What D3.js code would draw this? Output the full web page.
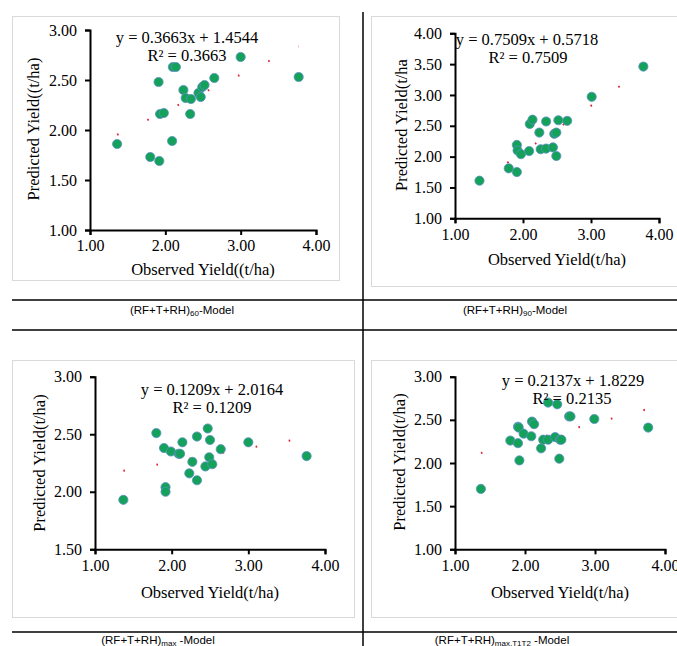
<!DOCTYPE html>
<html><head><meta charset="utf-8">
<script src="https://cdn.jsdelivr.net/npm/d3@7"></script>
<style>body{margin:0;background:#fff}svg{display:block}</style>
</head><body>
<svg id="c" width="677" height="646"></svg>
<script>
// ---- data ----
const p1Obs  = [1.36,1.80,1.92,1.91,1.93,1.98,2.09,2.10,2.14,2.24,2.27,2.34,2.33,2.44,2.47,2.49,2.52,2.65,3.00,3.77];
const p1Pred = [1.86,1.73,1.69,2.48,2.16,2.17,1.89,2.63,2.63,2.40,2.32,2.31,2.16,2.37,2.33,2.43,2.45,2.52,2.73,2.53];
const p2Obs  = [1.36,1.79,1.91,1.91,1.92,1.97,2.09,2.10,2.14,2.24,2.26,2.34,2.34,2.44,2.46,2.49,2.49,2.52,2.65,3.01,3.77];
const p2Pred = [1.61,1.81,1.75,2.19,2.10,2.04,2.09,2.53,2.60,2.39,2.12,2.13,2.57,2.15,2.37,2.39,2.01,2.59,2.58,2.97,3.46];
const p3Obs  = [1.37,1.80,1.90,1.99,1.92,1.92,2.09,2.11,2.14,2.23,2.27,2.33,2.33,2.47,2.50,2.49,2.44,2.53,2.64,3.00,3.76];
const p3Pred = [1.93,2.51,2.38,2.35,2.04,2.00,2.33,2.33,2.43,2.16,2.26,2.48,2.10,2.55,2.45,2.30,2.22,2.24,2.37,2.43,2.31];
const p4Obs  = [1.37,1.79,1.90,1.91,1.90,1.92,1.98,2.10,2.13,2.09,2.23,2.26,2.33,2.33,2.46,2.43,2.50,2.52,2.49,2.63,2.65,2.99,3.76];
const p4Pred = [1.70,2.26,2.42,2.41,2.23,2.03,2.34,2.48,2.45,2.31,2.17,2.27,2.70,2.27,2.68,2.30,2.27,2.27,2.05,2.54,2.54,2.51,2.41];
const slopes     = [0.3663, 0.7509, 0.1209, 0.2137];
const intercepts = [1.4544, 0.5718, 2.0164, 1.8229];
const eqLabels = ["y = 0.3663x + 1.4544","y = 0.7509x + 0.5718","y = 0.1209x + 2.0164","y = 0.2137x + 1.8229"];
const r2Labels = ["R² = 0.3663","R² = 0.7509","R² = 0.1209","R² = 0.2135"];
const xTicks = [1,2,3,4];
const yTicks1 = [1,1.5,2,2.5,3];
const yTicks2 = [1,1.5,2,2.5,3,3.5,4];
const yTicks3 = [1.5,2,2.5,3];
const yTicks4 = [1,1.5,2,2.5,3];
const xTitles = ["Observed Yield((t/ha)","Observed Yield(t/ha)","Observed Yield(t/ha)","Observed Yield(t/ha)"];
const yTitles = ["Predicted Yield((t/ha)","Predicted Yield(t/ha","Predicted Yield(t/ha)","Predicted Yield(t/ha)"];
const capMain = ["(RF+T+RH)","(RF+T+RH)","(RF+T+RH)","(RF+T+RH)"];
const capSub  = ["60","90","max","max.T1T2"];
const capTail = ["-Model","-Model"," -Model"," -Model"];

// ---- layout ----
const svg = d3.select("#c");
svg.append("rect").attr("width",677).attr("height",646).attr("fill","#fff");
const serif = "'Liberation Serif','Times New Roman',serif";
const sans = "'Liberation Sans',Arial,sans-serif";

const panels = [
  {obs:p1Obs,pred:p1Pred,yTicks:yTicks1,yDom:[1,3],box:[12,16,339,280],x0:90,x1:316,yb:230,yt:30,
   eq:[187,43],r2:[187,61],xt:[203,275],yt2:[33,129],cap:[182,314]},
  {obs:p2Obs,pred:p2Pred,yTicks:yTicks2,yDom:[1,4],box:[371,16,680,286],x0:455,x1:659,yb:218.3,yt:33.3,
   eq:[527,45],r2:[528,63],xt:[557,265],yt2:[401,125],cap:[515,314]},
  {obs:p3Obs,pred:p3Pred,yTicks:yTicks3,yDom:[1.5,3],box:[12,360,354,617],x0:95,x1:325,yb:549.3,yt:376.7,
   eq:[212,395],r2:[212,413],xt:[210,598],yt2:[39,463],cap:[158,644]},
  {obs:p4Obs,pred:p4Pred,yTicks:yTicks4,yDom:[1,3],box:[371,360,680,617],x0:455,x1:665,yb:549.3,yt:376.7,
   eq:[573,386],r2:[572,404],xt:[560,598],yt2:[399,462],cap:[502,644]}
];

// divider lines
const lines = [[12,300,677,300],[12,330,677,330],[12,632,677,632],[363,12,363,646]];
svg.selectAll("line.div").data(lines).join("line").attr("class","div")
  .attr("x1",d=>d[0]).attr("y1",d=>d[1]).attr("x2",d=>d[2]).attr("y2",d=>d[3])
  .attr("stroke","#000").attr("stroke-width",1.5);

panels.forEach((p,i)=>{
  const g = svg.append("g");
  const b = p.box;
  g.append("rect").attr("x",b[0]+0.5).attr("y",b[1]+0.5).attr("width",b[2]-b[0]).attr("height",b[3]-b[1])
    .attr("fill","#fff").attr("stroke","#d9d9d9").attr("stroke-width",1);
  const x = d3.scaleLinear().domain([1,4]).range([p.x0,p.x1]);
  const y = d3.scaleLinear().domain(p.yDom).range([p.yb,p.yt]);

  const xa = g.append("g").attr("transform",`translate(0,${p.yb})`)
    .call(d3.axisBottom(x).tickValues(xTicks).tickFormat(d3.format(".2f")).tickSizeOuter(0).tickSize(5).tickPadding(5));
  const ya = g.append("g").attr("transform",`translate(${p.x0},0)`)
    .call(d3.axisLeft(y).tickValues(p.yTicks).tickFormat(d3.format(".2f")).tickSizeOuter(0).tickSize(5).tickPadding(8));
  [xa,ya].forEach(a=>{
    a.select(".domain").attr("stroke","#000").attr("stroke-width",2);
    a.selectAll(".tick line").attr("stroke","#000").attr("stroke-width",2);
    a.selectAll(".tick text").attr("fill","#000").style("font-family",serif).style("font-size","16px");
  });

  // trendline (dotted)
  const xmin = d3.min(p.obs), xmax = d3.max(p.obs);
  const f = v => slopes[i]*v + intercepts[i];
  g.append("line").attr("x1",x(xmin)).attr("y1",y(f(xmin))).attr("x2",x(xmax)).attr("y2",y(f(xmax)))
    .attr("stroke","#e0203a").attr("stroke-width",2).attr("stroke-dasharray","1.6 32");

  // points
  g.selectAll("circle").data(p.obs.map((o,k)=>[o,p.pred[k]])).join("circle")
    .attr("cx",d=>x(d[0])).attr("cy",d=>y(d[1])).attr("r",4.6)
    .attr("fill","#14a15a").attr("stroke","#5d8fc4").attr("stroke-width",0.8);

  // equation labels
  g.append("text").attr("x",p.eq[0]).attr("y",p.eq[1]).attr("text-anchor","middle")
    .style("font-family",serif).style("font-size","16.5px").text(eqLabels[i]);
  g.append("text").attr("x",p.r2[0]).attr("y",p.r2[1]).attr("text-anchor","middle")
    .style("font-family",serif).style("font-size","16.5px").text(r2Labels[i]);

  // axis titles
  g.append("text").attr("x",p.xt[0]).attr("y",p.xt[1]).attr("text-anchor","middle")
    .style("font-family",serif).style("font-size","16.5px").text(xTitles[i]);
  g.append("text").attr("transform",`translate(${p.yt2[0]+6},${p.yt2[1]}) rotate(-90)`).attr("text-anchor","middle")
    .style("font-family",serif).style("font-size","16.5px").text(yTitles[i]);

  // caption
  const c = svg.append("text").attr("x",p.cap[0]).attr("y",p.cap[1]).attr("text-anchor","middle")
    .style("font-family",sans).style("font-size","11.5px").attr("fill","#000");
  c.append("tspan").text(capMain[i]);
  c.append("tspan").attr("dy",2).style("font-size","8px").text(capSub[i]);
  c.append("tspan").attr("dy",-2).text(capTail[i]);
});
</script>
</body></html>
